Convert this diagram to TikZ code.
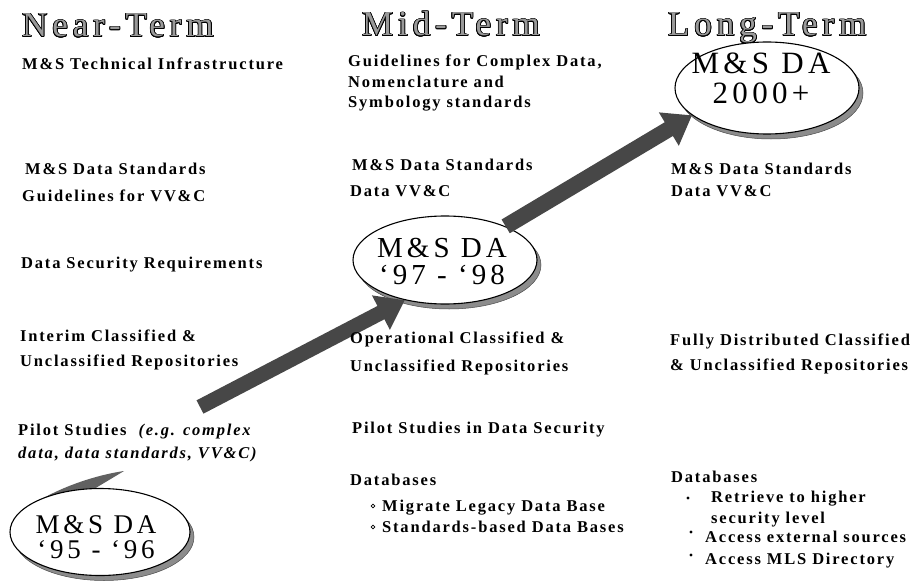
\documentclass[tikz,border=0pt]{standalone}
\usepackage{fontspec}
\usepackage{contour}
\setmainfont{Liberation Serif}
\newfontfamily\bodyfont[LetterSpace=11]{Liberation Serif}
\newfontfamily\headfont[LetterSpace=14]{Liberation Serif}
\newfontfamily\ovalfont[LetterSpace=14]{Liberation Serif}
\usetikzlibrary{shapes.geometric,arrows.meta}
\contourlength{0.75pt}
\newcommand{\engrave}[1]{\contour{black}{\textcolor{black!40}{#1}}}

\tikzset{
  body/.style={font=\bodyfont\bfseries\fontsize{16.5}{19}\selectfont,
               anchor=base west, inner sep=0pt, text=black},
  head/.style={font=\headfont\fontsize{35}{38}\selectfont,
               anchor=base west, inner sep=0pt},
  ovaltext/.style 2 args={font=\ovalfont\fontsize{#1}{#2}\selectfont,
               align=center, inner sep=0pt},
  oval/.style={ellipse, draw=black, line width=1.1pt, fill=white,
               inner sep=0pt, minimum width=184pt, minimum height=88pt},
  ovalshadow/.style={ellipse, fill=black!45, draw=black!70, line width=0.5pt,
               inner sep=0pt, minimum width=184pt, minimum height=88pt},
  ribbon/.style={fill=black!62},
  bigarrow/.style={line width=15pt, draw=black!72,
               -{Triangle[length=27pt,width=37pt]}},
  openbullet/.style={draw=black, line width=0.8pt},
  dotbullet/.style={fill=black}
}

\begin{document}
\begin{tikzpicture}[x=1pt,y=-1pt]
\useasboundingbox (0,0) rectangle (920,583);
\fill[white] (0,0) rectangle (920,583);

% column headings
\node[head] (hnear) at (22,37) {\engrave{Near-Term}};
\node[head] (hmid)  at (362,36) {\engrave{Mid-Term}};
\node[head] (hlong) at (668,36) {\engrave{Long-Term}};

% the three milestone ovals, with their raised rims
\node[ovalshadow, minimum width=180pt, minimum height=87pt] (s1) at (104,537) {};
\node[ovalshadow] (s2) at (449,265) {};
\node[ovalshadow, minimum height=92pt] (s3) at (771,93) {};

% ribbon leaving the first oval
\fill[ribbon] (17,516) .. controls (45,492) and (90,476) .. (124,471)
   -- (94,489) .. controls (62,494) and (36,503) .. (17,516) -- cycle;

\node[oval, minimum width=180pt, minimum height=87pt] (e1) at (100,532) {};
\node[oval] (e2) at (445,260) {};
\node[oval, minimum height=92pt] (e3) at (767,88) {};

\node[ovaltext={27}{25}] (e1t) at (96,537) {M\&S DA\\‘95 - ‘96};
\node[ovaltext={29}{27}] (e2t) at (442,261) {M\&S DA\\‘97 - ‘98};
\node[ovaltext={31}{30}] (e3t) at (761,78) {M\&S DA\\2000+};

% progress arrows between the ovals
\coordinate (t1) at (200,407);
\draw[bigarrow] (t1) -- (e2.225);
\draw[bigarrow, line width=16pt] (e2.29) -- (e3.200);

% near-term column
\node[body] (n1) at (22,70) {M\&S Technical Infrastructure};
\node[body] (n2) at (25,174) {M\&S Data Standards};
\node[body] (n3) at (22,201) {Guidelines for VV\&C};
\node[body] (n4) at (21,268) {Data Security Requirements};
\node[body] (n5) at (20,341) {Interim Classified \&};
\node[body] (n6) at (20,366) {Unclassified Repositories};
\node[body] (n7) at (18,435) {Pilot Studies \ \textit{(e.g. complex}};
\node[body] (n8) at (18,458) {\textit{data, data standards, VV\&C)}};

% mid-term column
\node[body] (m1) at (348,67) {Guidelines for Complex Data,};
\node[body] (m2) at (348,88) {Nomenclature and};
\node[body] (m3) at (348,108) {Symbology standards};
\node[body] (m4) at (352,170) {M\&S Data Standards};
\node[body] (m5) at (350,196) {Data VV\&C};
\node[body] (m6) at (350,343) {Operational Classified \&};
\node[body] (m7) at (350,371) {Unclassified Repositories};
\node[body] (m8) at (352,433) {Pilot Studies in Data Security};
\node[body] (m9) at (350,485) {Databases};
\node[body] (m10) at (382,511) {Migrate Legacy Data Base};
\node[body] (m11) at (382,532) {Standards-based Data Bases};
\draw[openbullet] (373,506) circle (1.9pt);
\draw[openbullet] (373,527) circle (1.9pt);

% long-term column
\node[body] (l1) at (671,174) {M\&S Data Standards};
\node[body] (l2) at (671,196) {Data VV\&C};
\node[body] (l3) at (670,345) {Fully Distributed Classified};
\node[body] (l4) at (670,370) {\& Unclassified Repositories};
\node[body] (l5) at (671,482) {Databases};
\node[body] (l6) at (711,502) {Retrieve to higher};
\node[body] (l7) at (711,523) {security level};
\node[body] (l8) at (705,542) {Access external sources};
\node[body] (l9) at (705,564) {Access MLS Directory};
\fill[dotbullet] (688,498) circle (1.7pt);
\fill[dotbullet] (691,532) circle (1.7pt);
\fill[dotbullet] (691,555) circle (1.7pt);
\end{tikzpicture}
\end{document}
